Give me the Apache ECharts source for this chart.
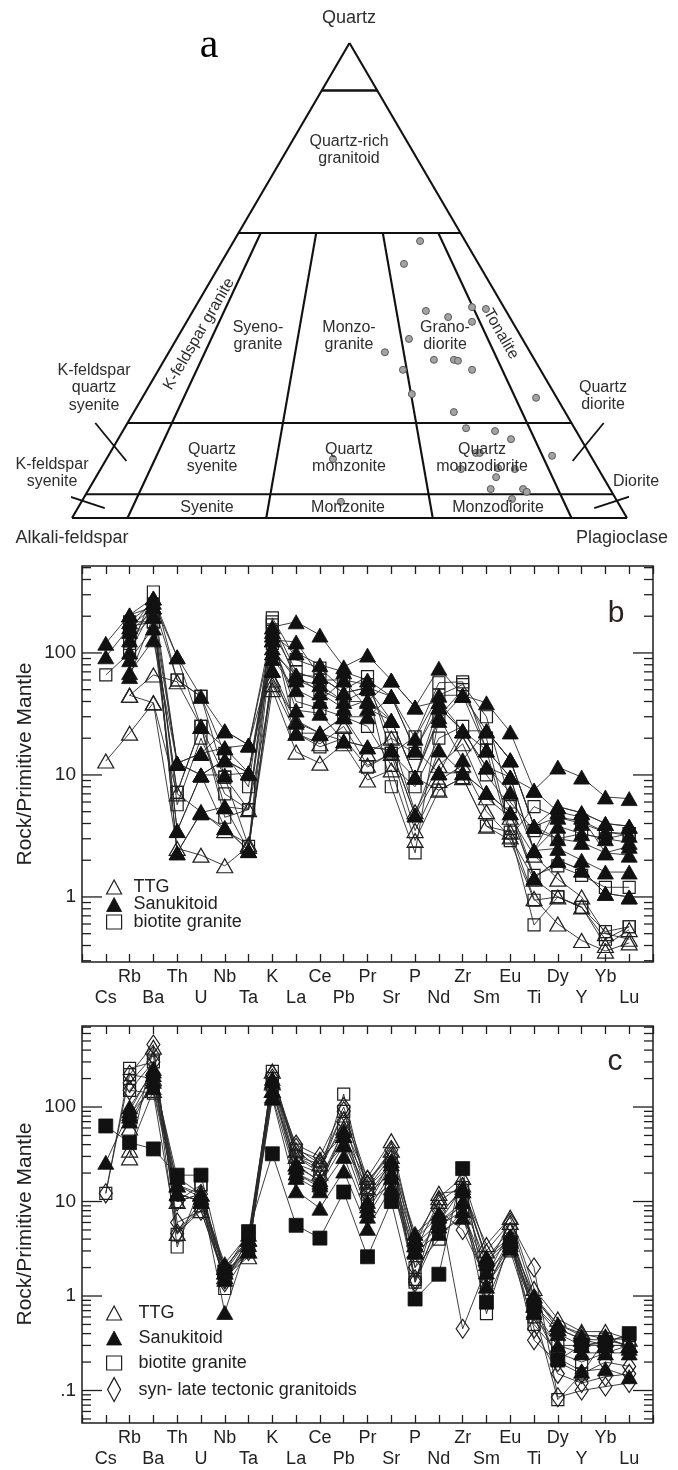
<!DOCTYPE html>
<html>
<head>
<meta charset="utf-8">
<script src="https://cdn.jsdelivr.net/npm/echarts@6/dist/echarts.min.js"></script>
<style>
  html, body { margin: 0; padding: 0; background: #fff; }
  #chart { width: 678px; height: 1470px; }
</style>
</head>
<body>
<div id="chart"></div>
<script>
// ---------- (a) QAP classification ----------
// Field boundaries: quartz levels (Q %) and plagioclase ratios P/(A+P) %
const qLevels = [90, 60, 20, 5];
const pRatios = [10, 35, 65, 90];
// Samples plotted in the QAP triangle: [Q %, P/(A+P) %]
const qapSamples = [
  [58.3, 80.5], [53.5, 71.1], [43.6, 74.4], [42.3, 80.8], [44.4, 89.7], [44.0, 93.9],
  [41.3, 87.6], [37.7, 67.2], [34.9, 59.8], [33.3, 72.8], [33.3, 78.2], [33.1, 79.2],
  [31.2, 82.1], [31.2, 64.0], [26.1, 65.2], [25.3, 95.0], [22.3, 74.2], [18.9, 75.9],
  [18.3, 82.1], [16.6, 84.9], [13.7, 76.4], [13.7, 77.2], [13.1, 92.0], [12.4, 46.6],
  [10.5, 79.9], [10.3, 83.2], [10.3, 72.4], [8.6, 78.9], [6.1, 77.1], [6.1, 83.3],
  [5.5, 83.8], [4.0, 80.5], [3.4, 48.4]
];

// ---------- (b), (c) primitive-mantle normalised spider diagrams ----------
const elements = ['Cs','Rb','Ba','Th','U','Nb','Ta','K','La','Ce','Pb','Pr','Sr','P','Nd','Zr','Sm','Eu','Ti','Dy','Y','Yb','Lu'];

// panel b
const ttgB = [
  [13, 22, 39, 2.5, 2.2, 1.8, 2.6, 50, 15.4, 12.5, 18, 9.1, 11, 2.9, 7.5, 9.5, 3.8, 3.4, 0.97, 0.6, 0.44, 0.36, 0.42],
  [null, 45, 66, 58, 25, 5.5, 5.2, 55, 22, 18, 25, 12, 15, 3.5, 9, 12, 5, 3.1, 1.4, 1.0, 0.83, 0.40, 0.54],
  [null, 45, 39, 7, 5, 3.5, 2.7, 60, 28, 22, 30, 15, 20, 5, 12, 18, 6.5, 4.5, 2.2, 1.4, 1.0, 0.5, 0.45]
];
const sanukitoidB = [
  [120, 205, 282, 93, 44, 23, 17.6, 163, 180, 140, 77, 96, 60, 36, 75, 45, 39, 22.5, 7.5, 11.6, 9.6, 6.6, 6.4],
  [93, 163, 238, 12.5, 15, 16.7, 10.4, 128, 123, 64, 47, 52, 44, 16, 36, 23, 23, 13.3, 3.8, 5.5, 4.9, 4.0, 3.8],
  [null, 128, 200, 12.5, 10, 13.3, 10.4, 100, 66, 47, 35, 41, 28, 9.6, 28, 45, 16, 9.6, 2.4, 3.8, 3.3, 3.0, 2.8],
  [null, 102, 238, 2.3, 4.9, 5.5, 2.4, 128, 34, 32, 19, 17, 16, 4.7, 16, 10.4, 7.2, 4.9, 1.43, 2.0, 1.66, 1.07, 1.0],
  [null, 88, 160, 3.5, 10, 3.7, 2.4, 72, 27, 22, 30, 30, 44, 16, 10.4, 23, 11.6, 7.2, 2.4, 2.5, 2.0, 1.6, 1.6],
  [null, 69, 128, 12.5, 15, 23, 17.6, 90, 50, 40, 60, 35, 28, 9.6, 30, 13.3, 23, 13.3, 3.8, 4.5, 4.0, 3.4, 3.2],
  [null, 64, 200, 3.5, 10, 10, 10.4, 110, 60, 55, 40, 40, 60, 36, 40, 23, 16, 9.6, 7.5, 5.0, 4.5, 2.3, 2.2],
  [null, 180, 260, 93, 25, 16.7, 17.6, 140, 100, 80, 70, 60, 44, 20, 45, 45, 23, 13.3, 3.8, 3.0, 2.8, 2.3, 2.6],
  [null, 150, 282, 12.5, 10, 13.3, 10.4, 150, 66, 64, 47, 52, 28, 9.6, 36, 23, 11.6, 9.6, 2.4, 5.5, 4.9, 4.0, 3.8],
  [null, 205, 238, 2.3, 4.9, 3.7, 2.4, 72, 22, 22, 19, 17, 16, 4.7, 10.4, 10.4, 7.2, 4.9, 1.43, 2.0, 1.66, 1.07, 1.0]
];
const biotiteB = [
  [66, 100, 316, 60, 44, 9.6, 5.2, 194, 88, 75, 50, 64, 15, 20.5, 57, 58, 16, 3.1, 5.5, 4.5, 4.2, 3.4, 3.3],
  [null, 180, 180, 7.2, 25, 9.6, 2.6, 170, 60, 50, 40, 50, 8.0, 2.3, 30, 50, 20, 3.4, 0.59, 1.0, 0.82, 0.52, 0.57],
  [null, 150, 220, 5.7, 20, 7, 5.2, 150, 22, 17, 20, 11.6, 15, 9.5, 7.5, 9.5, 3.8, 2.9, 0.94, 1.0, 0.82, 0.45, 0.57],
  [null, 120, 250, 60, 44, 15, 8, 180, 70, 60, 60, 55, 20, 15, 45, 55, 30, 6, 3.5, 3.0, 3.3, 3.0, 3.3],
  [null, 165, 180, 7.2, 25, 4.5, 5.2, 120, 40, 35, 30, 25, 12, 8, 20, 25, 10, 5.5, 1.5, 1.8, 1.5, 1.2, 1.2]
];

// panel c
const ttgC = [
  [null, 29, 430, 4.6, 8, 1.6, 2.6, 240, 30, 25, 60, 18, 44, 3.5, 12.2, 13, 3.5, 6.8, 1.2, 0.57, 0.42, 0.42, 0.35],
  [null, 35, 150, 10, 12, 1.8, 3, 150, 25, 20, 40, 14, 30, 3, 10, 15, 2.5, 5, 0.8, 0.45, 0.35, 0.3, 0.3],
  [null, 60, 200, 15, 12, 2.0, 4, 180, 35, 28, 50, 16, 35, 4, 11, 18, 3, 6, 1.0, 0.5, 0.4, 0.35, 0.3]
];
const sanukitoidC = [
  [26, 91, 256, 12.2, 10, 2.0, 4, 187, 23, 17, 56, 10, 27, 4.6, 7.5, 13, 2.6, 4.2, 0.93, 0.5, 0.38, 0.38, 0.28],
  [null, 71, 187, 12.2, 10, 1.5, 3.5, 124, 13, 8.5, 21, 5.2, 14, 2.9, 4.6, 6.8, 1.27, 3.5, 0.67, 0.22, 0.16, 0.17, 0.14],
  [null, 80, 220, 18, 12, 0.67, 4, 150, 20, 15, 40, 8, 20, 3.5, 6, 10, 2.2, 3.8, 0.8, 0.4, 0.3, 0.3, 0.3],
  [null, 85, 160, 12, 10, 1.8, 3, 130, 18, 13, 30, 7, 18, 3, 5.5, 8, 1.8, 3.2, 0.7, 0.3, 0.25, 0.25, 0.25],
  [null, 100, 240, 15, 11, 2.2, 4.5, 200, 25, 16, 50, 9, 25, 4, 7, 14, 2.4, 4, 1.0, 0.45, 0.35, 0.34, 0.3]
];
const biotiteC = [
  [12.2, 256, 300, 3.3, 15, 1.2, 3, 238, 30, 20, 137, 12, 20, 1.4, 5, 10, 0.65, 4, 0.7, 0.08, 0.15, 0.35, 0.35],
  [null, 220, 200, 10, 15, 1.5, 4, 200, 35, 22, 90, 14, 25, 1.5, 6, 14, 1.6, 5, 0.6, 0.3, 0.3, 0.33, 0.38],
  [null, 150, 140, 4.5, 9, 1.6, 3, 170, 20, 14, 60, 10, 15, 2, 4, 8, 1.3, 3, 0.5, 0.25, 0.2, 0.25, 0.3]
];
const biotiteDarkC = [
  [63, 42, 36, 19, 19, 1.8, 4.8, 32, 5.6, 4.1, 12.6, 2.6, 10, 0.93, 1.7, 22.3, 0.86, 3.5, 0.8, 0.21, 0.3, 0.32, 0.4]
];
const synLateC = [
  [12.2, 220, 458, 4.6, 10, 1.4, 4, 220, 37, 25, 90, 15, 35, 1.4, 10, 0.45, 2, 6, 2.0, 0.085, 0.1, 0.11, 0.12],
  [null, 150, 300, 10, 12, 1.8, 4, 180, 40, 30, 100, 17, 30, 2.0, 8, 5, 1.5, 4, 0.34, 0.2, 0.15, 0.2, 0.18],
  [null, 180, 350, 6, 8, 1.5, 3, 200, 30, 22, 70, 12, 25, 1.5, 6, 9, 1.2, 4, 0.45, 0.15, 0.12, 0.14, 0.15]
];

// vertical ranges of the two log axes
const rangeB = [0.293, 516];
const rangeC = [0.0453, 720];

// ---------- helpers ----------
const FONT = 'Liberation Sans, Arial, Helvetica, sans-serif';
const INK = '#1e1e1e';

// ternary (Q, P-ratio) -> cartesian coordinates of the triangle's hidden axes
function tern(q, r) { return [q / 2 + (100 - q) * r / 100, q]; }

const MARK = {
  ttg: { symbol: 'triangle', symbolSize: [16, 14], itemStyle: { color: 'rgba(255,255,255,0)', borderColor: INK, borderWidth: 1.2, opacity: 1 } },
  san: { symbol: 'triangle', symbolSize: [16, 14], itemStyle: { color: '#111', borderColor: '#111', borderWidth: 0.8, opacity: 1 } },
  bio: { symbol: 'rect', symbolSize: 12, itemStyle: { color: 'rgba(255,255,255,0)', borderColor: INK, borderWidth: 1.2, opacity: 1 } },
  bioDark: { symbol: 'rect', symbolSize: 14, itemStyle: { color: '#111', borderColor: '#111', borderWidth: 0.8, opacity: 1 } },
  syn: { symbol: 'diamond', symbolSize: [13, 19], itemStyle: { color: 'rgba(255,255,255,0)', borderColor: INK, borderWidth: 1.2, opacity: 1 } }
};

function spiderSeries(samples, mark, name, xi, yi) {
  const out = [];
  const pts = [];
  samples.forEach((s, k) => {
    const line = [];
    s.forEach((v, i) => { if (v != null) { line.push([i, v]); pts.push([i, v]); } });
    out.push({
      type: 'line', name: name + ' ' + (k + 1), xAxisIndex: xi, yAxisIndex: yi,
      data: line, symbol: 'none', silent: true, z: 2,
      lineStyle: { color: '#2a2a2a', width: 0.9 }
    });
  });
  out.push(Object.assign({
    type: 'scatter', name: name, xAxisIndex: xi, yAxisIndex: yi, data: pts, silent: true, z: 3
  }, mark));
  return out;
}

function logTickData(lo, hi) {
  const out = [];
  for (let p = Math.floor(Math.log10(lo)); p <= Math.ceil(Math.log10(hi)); p++) {
    for (let m = 1; m <= 9; m++) {
      const v = m * Math.pow(10, p);
      if (v >= lo && v <= hi) out.push([0, v, m === 1 ? 1 : 0]);
    }
  }
  return out;
}
function renderLogTick(params, api) {
  const cs = params.coordSys;
  const y = api.coord([0, api.value(1)])[1];
  const len = api.value(2) ? 20 : 9;
  const st = { stroke: INK, lineWidth: 1.3 };
  return { type: 'group', children: [
    { type: 'line', shape: { x1: cs.x, y1: y, x2: cs.x + len, y2: y }, style: st },
    { type: 'line', shape: { x1: cs.x + cs.width, y1: y, x2: cs.x + cs.width - len, y2: y }, style: st }
  ] };
}
function decadeLabel(v) {
  const l = Math.log10(v);
  if (Math.abs(l - Math.round(l)) > 1e-6) return '';
  const p = Math.round(l);
  return p >= 0 ? String(Math.pow(10, p)) : '.' + '0'.repeat(-p - 1) + '1';
}
function elementLabel(v) {
  const i = Math.round(v);
  if (i < 0 || i >= elements.length) return '';
  return i % 2 === 0 ? '\n' + elements[i] : elements[i];
}

function catAxis(grid, pos) {
  return {
    type: 'value', gridIndex: grid, position: pos, min: -1, max: elements.length, interval: 1,
    axisLine: { show: false }, splitLine: { show: false },
    axisTick: { show: true, inside: true, length: 8, lineStyle: { color: INK, width: 1.3 } },
    axisLabel: pos === 'bottom'
      ? { show: true, formatter: elementLabel, fontSize: 18, fontFamily: FONT, color: '#222', lineHeight: 21, margin: 5 }
      : { show: false }
  };
}
function logAxis(grid, range) {
  return {
    type: 'log', logBase: 10, gridIndex: grid, min: range[0], max: range[1],
    axisLine: { show: false }, axisTick: { show: false }, splitLine: { show: false }, minorTick: { show: false },
    axisLabel: { formatter: decadeLabel, fontSize: 19, fontFamily: FONT, color: '#222', margin: 6 }
  };
}

// ---------- QAP triangle geometry ----------
const qapSeries = [];
function seg(a, b, w) {
  qapSeries.push({
    type: 'line', xAxisIndex: 0, yAxisIndex: 0, data: [a, b], symbol: 'none', silent: true, clip: false,
    lineStyle: { color: '#111', width: w || 2.1 }, z: 2
  });
}
// outline
seg(tern(0, 0), tern(100, 0)); seg(tern(100, 0), tern(0, 100)); seg(tern(0, 100), tern(0, 0));
// horizontal quartz levels
qLevels.forEach(q => seg(tern(q, 0), tern(q, 100), q === 90 ? 2.6 : 2.1));
// radial plagioclase-ratio boundaries below Q = 60
pRatios.forEach(r => seg(tern(60, r), tern(0, r)));
// leader marks for the labels outside the triangle
const leaderLines = [
  [[4.2, 20], [9.8, 12]], [[-1.2, 4.8], [5.9, 2.1]],
  [[95.8, 20], [90.2, 12]], [[101.2, 4.8], [94.1, 2.1]]
];
leaderLines.forEach(l => seg(l[0], l[1], 1.8));
qapSeries.push({
  type: 'scatter', xAxisIndex: 0, yAxisIndex: 0, silent: true, z: 4,
  data: qapSamples.map(p => tern(p[0], p[1])),
  symbol: 'circle', symbolSize: 7,
  itemStyle: { color: '#a3a3a3', borderColor: '#5a5a5a', borderWidth: 1, opacity: 1 }
});

// ---------- annotation text ----------
function txt(x, y, s, o) {
  o = o || {};
  return {
    type: 'text', x: x, y: y, rotation: o.rot || 0, silent: true, z: 20,
    style: {
      text: s, fill: o.color || '#2e2e2e', font: (o.weight || 'normal') + ' ' + (o.size || 16) + 'px ' + (o.family || FONT),
      align: o.align || 'center', verticalAlign: 'middle', lineHeight: o.lh || 17
    }
  };
}
const DEG = Math.PI / 180;
const graphics = [
  txt(349, 18, 'Quartz', { size: 18 }),
  txt(209, 46, 'a', { size: 42, family: 'Liberation Serif, DejaVu Serif, serif', color: '#000' }),
  txt(349, 150, 'Quartz-rich\ngranitoid'),
  txt(199, 334, 'K-feldspar granite', { rot: 60 * DEG }),
  txt(258, 336, 'Syeno-\ngranite'),
  txt(349, 336, 'Monzo-\ngranite'),
  txt(445, 336, 'Grano-\ndiorite'),
  txt(501, 334, 'Tonalite', { rot: -60 * DEG }),
  txt(94, 388, 'K-feldspar\nquartz\nsyenite', { lh: 17.5 }),
  txt(212, 458, 'Quartz\nsyenite'),
  txt(349, 458, 'Quartz\nmonzonite'),
  txt(482, 458, 'Quartz\nmonzodiorite'),
  txt(603, 396, 'Quartz\ndiorite'),
  txt(52, 473, 'K-feldspar\nsyenite'),
  txt(636, 482, 'Diorite'),
  txt(207, 508, 'Syenite'),
  txt(348, 508, 'Monzonite'),
  txt(498, 508, 'Monzodiorite'),
  txt(72, 538, 'Alkali-feldspar', { size: 18 }),
  txt(622, 538, 'Plagioclase', { size: 18 }),
  // spider panels
  txt(616, 614, 'b', { size: 30, color: '#2a2222' }),
  txt(615, 1062, 'c', { size: 30, color: '#2a2222' }),
  txt(25, 764, 'Rock/Primitive Mantle', { size: 21, rot: 90 * DEG, color: '#222' }),
  txt(25, 1224, 'Rock/Primitive Mantle', { size: 21, rot: 90 * DEG, color: '#222' })
];

// ---------- legends ----------
function legendItem(name, icon, mark) {
  return { name: name, icon: icon, itemStyle: Object.assign({}, mark.itemStyle) };
}
function legendText(pad) {
  return { fontSize: 18, fontFamily: FONT, color: '#222', padding: [0, 0, 0, pad] };
}

const series = [].concat(
  qapSeries,
  spiderSeries(biotiteB, MARK.bio, 'biotite granite', 1, 1),
  spiderSeries(ttgB, MARK.ttg, 'TTG', 1, 1),
  spiderSeries(sanukitoidB, MARK.san, 'Sanukitoid', 1, 1),
  spiderSeries(synLateC, MARK.syn, 'syn- late tectonic granitoids', 3, 2),
  spiderSeries(biotiteC, MARK.bio, 'biotite granite', 3, 2),
  spiderSeries(ttgC, MARK.ttg, 'TTG', 3, 2),
  spiderSeries(biotiteDarkC, MARK.bioDark, 'biotite granite (dark)', 3, 2),
  spiderSeries(sanukitoidC, MARK.san, 'Sanukitoid', 3, 2),
  [
    { type: 'custom', xAxisIndex: 1, yAxisIndex: 1, data: logTickData(rangeB[0], rangeB[1]),
      encode: { x: 0, y: 1 }, renderItem: renderLogTick, silent: true, z: 10 },
    { type: 'custom', xAxisIndex: 3, yAxisIndex: 2, data: logTickData(rangeC[0], rangeC[1]),
      encode: { x: 0, y: 1 }, renderItem: renderLogTick, silent: true, z: 10 }
  ]
);

const option = {
  animation: false,
  backgroundColor: '#fff',
  grid: [
    { left: 72, top: 43, width: 555, height: 475 },
    { left: 82, top: 566, width: 571, height: 396, show: true, borderColor: INK, borderWidth: 1.5 },
    { left: 82, top: 1026, width: 571, height: 397, show: true, borderColor: INK, borderWidth: 1.5 }
  ],
  xAxis: [
    { type: 'value', gridIndex: 0, min: 0, max: 100, show: false },
    catAxis(1, 'bottom'), catAxis(1, 'top'),
    catAxis(2, 'bottom'), catAxis(2, 'top')
  ],
  yAxis: [
    { type: 'value', gridIndex: 0, min: 0, max: 100, show: false },
    logAxis(1, rangeB),
    logAxis(2, rangeC)
  ],
  legend: [
    { orient: 'vertical', left: 106, top: 878, padding: 0, itemWidth: 15, itemHeight: 14, itemGap: -0.5, selectedMode: false,
      textStyle: legendText(7),
      data: [legendItem('TTG', 'triangle', MARK.ttg), legendItem('Sanukitoid', 'triangle', MARK.san), legendItem('biotite granite', 'rect', MARK.bio)] },
    { orient: 'vertical', left: 106, top: 1304, padding: 0, itemWidth: 15, itemHeight: 14, itemGap: 7, selectedMode: false,
      textStyle: legendText(12),
      data: [legendItem('TTG', 'triangle', MARK.ttg), legendItem('Sanukitoid', 'triangle', MARK.san), legendItem('biotite granite', 'rect', MARK.bio)] },
    { orient: 'vertical', left: 107, top: 1377, padding: 0, itemWidth: 13, itemHeight: 24, selectedMode: false,
      textStyle: legendText(13),
      data: [legendItem('syn- late tectonic granitoids', 'diamond', MARK.syn)] }
  ],
  graphic: graphics,
  series: series
};

const chart = echarts.init(document.getElementById('chart'), null, { renderer: 'canvas' });
chart.setOption(option);
</script>
</body>
</html>
